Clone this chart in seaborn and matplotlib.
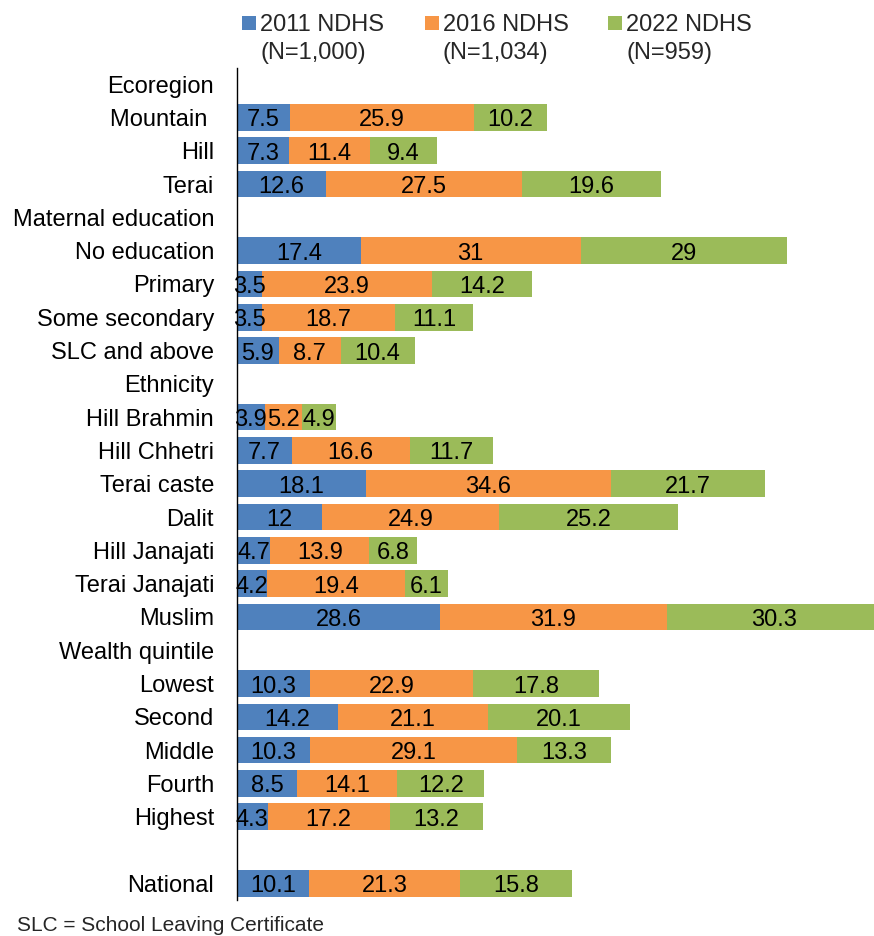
import numpy as np
import pandas as pd
import matplotlib
matplotlib.use("Agg")
import matplotlib.pyplot as plt
from matplotlib.patches import Rectangle
import seaborn as sns

# Row labels (section headers and the spacer row carry no bars)
categories = [
    "Ecoregion", "Mountain ", "Hill", "Terai",
    "Maternal education", "No education", "Primary", "Some secondary", "SLC and above",
    "Ethnicity", "Hill Brahmin", "Hill Chhetri", "Terai caste", "Dalit",
    "Hill Janajati", "Terai Janajati", "Muslim",
    "Wealth quintile", "Lowest", "Second", "Middle", "Fourth", "Highest",
    "", "National",
]
nan = np.nan
ndhs_2011 = [nan, 7.5, 7.3, 12.6,
             nan, 17.4, 3.5, 3.5, 5.9,
             nan, 3.9, 7.7, 18.1, 12, 4.7, 4.2, 28.6,
             nan, 10.3, 14.2, 10.3, 8.5, 4.3,
             nan, 10.1]
ndhs_2016 = [nan, 25.9, 11.4, 27.5,
             nan, 31, 23.9, 18.7, 8.7,
             nan, 5.2, 16.6, 34.6, 24.9, 13.9, 19.4, 31.9,
             nan, 22.9, 21.1, 29.1, 14.1, 17.2,
             nan, 21.3]
ndhs_2022 = [nan, 10.2, 9.4, 19.6,
             nan, 29, 14.2, 11.1, 10.4,
             nan, 4.9, 11.7, 21.7, 25.2, 6.8, 6.1, 30.3,
             nan, 17.8, 20.1, 13.3, 12.2, 13.2,
             nan, 15.8]
series_names = ["2011 NDHS", "2016 NDHS", "2022 NDHS"]
series_n = ["(N=1,000)", "(N=1,034)", "(N=959)"]
colors = ["#4F81BD", "#F79646", "#9BBB59"]

df = pd.DataFrame({"group": categories, "s1": ndhs_2011, "s2": ndhs_2016, "s3": ndhs_2022})
df["c1"] = df["s1"]
df["c2"] = df["s1"] + df["s2"]
df["c3"] = df["c2"] + df["s3"]

sns.set_style("white")
plt.rcParams["font.family"] = ["Liberation Sans", "DejaVu Sans"]

W, H = 874, 936
fig = plt.figure(figsize=(W / 100, H / 100), dpi=100)
ax = fig.add_axes([237 / W, 1 - 900 / H, 1 - 237 / W, (900 - 67.5) / H])

# Stacked bars: draw cumulative totals from the back to the front
for col, color in zip(["c3", "c2", "c1"], colors[::-1]):
    sns.barplot(data=df, y="group", x=col, order=categories, orient="h",
                color=color, saturation=1, width=0.8, linewidth=0,
                errorbar=None, ax=ax)

# Segment value labels, baseline set just below the bar centre
for i, row in df.iterrows():
    left = 0.0
    for key in ["s1", "s2", "s3"]:
        v = row[key]
        if pd.isna(v):
            continue
        ax.annotate(f"{v:g}", xy=(left + v / 2, i), xytext=(0, -6.5),
                    textcoords="offset points", ha="center", va="baseline",
                    fontsize=17, color="black", annotation_clip=False)
        left += v

ax.set_xlim(0, 89.7)
ax.set_xticks([])
ax.set_xlabel("")
ax.set_ylabel("")
for side in ["top", "right", "bottom"]:
    ax.spines[side].set_visible(False)
ax.spines["left"].set_color("black")
ax.spines["left"].set_linewidth(1)
ax.tick_params(axis="y", length=0, pad=16.5, labelsize=17, labelcolor="black")

# Legend: colour swatch next to a two-line label
for x0, name, n, color in zip([242, 425, 608], series_names, series_n, colors):
    fig.add_artist(Rectangle((x0 / W, 1 - 30 / H), 14 / W, 14 / H,
                             transform=fig.transFigure, facecolor=color,
                             edgecolor="none"))
    fig.text((x0 + 18) / W, 1 - 31 / H, name, ha="left", va="baseline", fontsize=17)
    fig.text((x0 + 18) / W, 1 - 59 / H, n, ha="left", va="baseline", fontsize=17)

fig.text(17 / W, 1 - 931 / H, "SLC = School Leaving Certificate",
         ha="left", va="baseline", fontsize=15)

fig.savefig("out.png", dpi=100)
